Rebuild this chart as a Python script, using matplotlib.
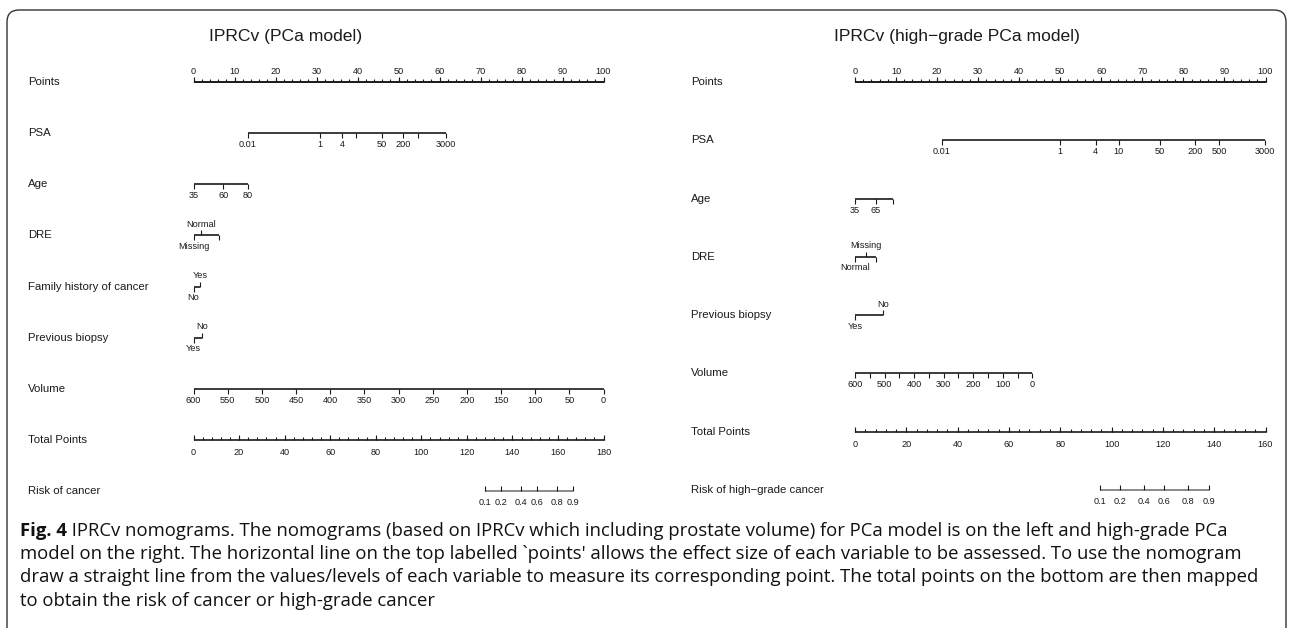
import numpy as np
import matplotlib.pyplot as plt
from matplotlib import transforms
from matplotlib.patches import FancyBboxPatch

plt.rcParams['font.family'] = ['Liberation Sans', 'DejaVu Sans']

W, H = 1292, 628

# ---------------- data: positions are on the "Points" scale (0-100) ----------------
left_title = "IPRCv (PCa model)"
right_title = "IPRCv (high\u2212grade PCa model)"

points_major = [0, 10, 20, 30, 40, 50, 60, 70, 80, 90, 100]

# left model (PCa)
psa_lab_l = ['0.01', '1', '4', '', '50', '200', '', '3000']
psa_pts_l = [13.2, 30.9, 36.2, 39.7, 45.9, 51.2, 54.8, 61.6]
age_lab_l = ['35', '60', '80']
age_pts_l = [0, 7.3, 13.2]
dre_lab_l = ['Missing', 'Normal', '']
dre_pts_l = [0, 1.8, 6.3]
fam_lab_l = ['No', 'Yes']
fam_pts_l = [0, 1.7]
bx_lab_l = ['Yes', 'No']
bx_pts_l = [0, 2.1]
vol_lab_l = ['600', '550', '500', '450', '400', '350', '300', '250', '200',
             '150', '100', '50', '0']
vol_pts_l = [0, 8.3, 16.7, 25.0, 33.3, 41.7, 50.0, 58.3, 66.7, 75.0, 83.3, 91.7, 100]
total_max_l = 180
risk_lab_l = ['0.1', '0.2', '0.4', '0.6', '0.8', '0.9']
risk_tot_l = [127.8, 134.9, 143.6, 150.8, 159.6, 166.6]

# right model (high-grade PCa)
psa_lab_r = ['0.01', '1', '4', '10', '50', '200', '500', '3000']
psa_pts_r = [21.2, 49.9, 58.6, 64.3, 74.3, 82.9, 88.7, 99.8]
age_lab_r = ['35', '65', '']
age_pts_r = [0, 5.0, 9.3]
dre_lab_r = ['Normal', 'Missing', '']
dre_pts_r = [0, 2.7, 5.1]
bx_lab_r = ['Yes', 'No']
bx_pts_r = [0, 6.8]
vol_lab_r = ['600', '', '500', '', '400', '', '300', '', '200', '', '100', '', '0']
vol_pts_r = [0, 3.6, 7.2, 10.8, 14.4, 18.0, 21.6, 25.2, 28.8, 32.4, 36.0, 39.6, 43.2]
total_max_r = 160
risk_lab_r = ['0.1', '0.2', '0.4', '0.6', '0.8', '0.9']
risk_tot_r = [95.6, 103.4, 112.8, 120.3, 129.8, 137.8]

caption_bold = "Fig. 4"
caption_lines = [
    " IPRCv nomograms. The nomograms (based on IPRCv which including prostate volume) for PCa model is on the left and high-grade PCa",
    "model on the right. The horizontal line on the top labelled `points' allows the effect size of each variable to be assessed. To use the nomogram",
    "draw a straight line from the values/levels of each variable to measure its corresponding point. The total points on the bottom are then mapped",
    "to obtain the risk of cancer or high-grade cancer",
]

LINE = '#1a1a1a'
TXT = '#1a1a1a'
TICK_FS = 6.6
LAB_FS = 8.2
CAP_FONT = ['Open Sans', 'DejaVu Sans']


def scale(ax, y, xs, labels, tick='down', lab='down', alt=False, color=LINE,
          lw=1.2, off=8.0):
    ax.plot([min(xs), max(xs)], [y, y], color=color, lw=lw,
            solid_capstyle='butt', clip_on=False)
    for i, (x, s) in enumerate(zip(xs, labels)):
        t, l = tick, lab
        if alt:
            t = l = 'down' if i % 2 == 0 else 'up'
        ax.plot([x], [y], ls='none', marker=3 if t == 'down' else 2,
                ms=3.3, mew=0.8, color=LINE, clip_on=False)
        if s:
            ax.annotate(s, (x, y), xytext=(0, -off if l == 'down' else off),
                        textcoords='offset points', ha='center', va='center',
                        fontsize=TICK_FS, color=TXT)


fig = plt.figure(figsize=(W / 100, H / 100), dpi=100)

left_rows = [
    ('Points', None),
    ('PSA', (psa_pts_l, psa_lab_l, False)),
    ('Age', (age_pts_l, age_lab_l, False)),
    ('DRE', (dre_pts_l, dre_lab_l, True)),
    ('Family history of cancer', (fam_pts_l, fam_lab_l, True)),
    ('Previous biopsy', (bx_pts_l, bx_lab_l, True)),
    ('Volume', (vol_pts_l, vol_lab_l, False)),
]
right_rows = [
    ('Points', None),
    ('PSA', (psa_pts_r, psa_lab_r, False)),
    ('Age', (age_pts_r, age_lab_r, False)),
    ('DRE', (dre_pts_r, dre_lab_r, True)),
    ('Previous biopsy', (bx_pts_r, bx_lab_r, True)),
    ('Volume', (vol_pts_r, vol_lab_r, False)),
]

panels = [
    (193.5, 603.5, 82, 491, 28, 286, left_title, left_rows, total_max_l,
     risk_lab_l, risk_tot_l, 'Risk of cancer'),
    (855, 1265.5, 82, 490, 691, 957, right_title, right_rows, total_max_r,
     risk_lab_r, risk_tot_r, 'Risk of high\u2212grade cancer'),
]

for (x0, x1, yt, yb, labx, tx, title, rows, tmax, rlab, rtot, rname) in panels:
    n = len(rows) + 2
    pos = [x0 / W, 1 - yb / H, (x1 - x0) / W, (yb - yt) / H]
    ax = fig.add_axes(pos)
    ax.set_xlim(0, 100)
    ax.set_ylim(n - 1, 0)
    ax.axis('off')
    axt = fig.add_axes(pos, label='total' + title)
    axt.set_xlim(0, tmax)
    axt.set_ylim(n - 1, 0)
    axt.axis('off')
    trans = transforms.blended_transform_factory(fig.transFigure, ax.transData)

    fig.text(tx / W, 1 - 37 / H, title, ha='center', va='center',
             fontsize=12.6, color=TXT)

    names = [r[0] for r in rows] + ['Total Points', rname]
    for i, name in enumerate(names):
        ax.text(labx / W, i, name, transform=trans, ha='left', va='center',
                fontsize=LAB_FS, color=TXT)

    # points axis
    ax.plot([0, 100], [0, 0], color=LINE, lw=1.2, solid_capstyle='butt', clip_on=False)
    ax.plot(np.arange(0, 101, 2), [0] * 51, ls='none', marker=2, ms=2.0,
            mew=0.8, color=LINE, clip_on=False)
    scale(ax, 0, points_major, [str(p) for p in points_major], tick='up',
          lab='up', off=7.5)

    for i, (name, spec) in enumerate(rows):
        if spec is None:
            continue
        xs, labs, alt = spec
        scale(ax, i, xs, labs, alt=alt, off=8.3 if not alt else 8.0)

    # total points
    it = len(rows)
    tmaj = list(range(0, tmax + 1, 20))
    axt.plot(np.arange(0, tmax + 1, 4), [it] * (tmax // 4 + 1), ls='none',
             marker=2, ms=2.0, mew=0.8, color=LINE, clip_on=False)
    scale(axt, it, tmaj, [str(t) for t in tmaj], tick='up', lab='down', off=9.0)

    # risk
    scale(axt, it + 1, rtot, rlab, tick='up', lab='down', color='#777777',
          lw=1.2, off=8.5)

# caption: size fitted so the longest line spans the same width as in the figure
y_lines = [530.5, 554, 577.5, 601]
cap_fs = 13.0
bold = fig.text(20 / W, 1 - y_lines[0] / H, caption_bold, ha='left', va='center',
                fontsize=cap_fs, fontweight='bold', family=CAP_FONT, color='#111111')
texts = [fig.text(0, 1 - y_lines[0] / H, caption_lines[0], ha='left', va='center',
                  fontsize=cap_fs, family=CAP_FONT, color='#111111')]
for yl, line in zip(y_lines[1:], caption_lines[1:]):
    texts.append(fig.text(20 / W, 1 - yl / H, line, ha='left', va='center',
                          fontsize=cap_fs, family=CAP_FONT, color='#111111'))
fig.canvas.draw()
wid = texts[2].get_window_extent().width
cap_fs = cap_fs * 1228 / wid
bold.set_fontsize(cap_fs)
for t in texts:
    t.set_fontsize(cap_fs)
fig.canvas.draw()
texts[0].set_x(bold.get_window_extent().x1 / W)

# rounded frame (bottom edge runs off the picture)
frame = FancyBboxPatch((7, -20), 1279, H - 10 + 20,
                       boxstyle='round,pad=0,rounding_size=12',
                       transform=transforms.IdentityTransform(),
                       fill=False, ec='#333333', lw=1.0)
fig.patches.append(frame)

fig.savefig('out.png', dpi=100)
